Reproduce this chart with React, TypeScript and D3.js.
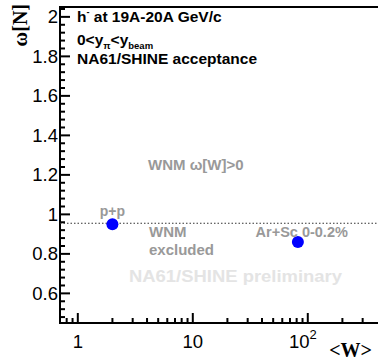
import React from "react";
import * as d3 from "d3";

const systems = ["p+p", "Ar+Sc 0-0.2%"];
const meanW = [2.0, 82];
const omegaN = [0.95, 0.86];
const poissonLine = 0.955;

const yMajor = [0.6, 0.8, 1.0, 1.2, 1.4, 1.6, 1.8, 2.0];
const yLabels = ["0.6", "0.8", "1", "1.2", "1.4", "1.6", "1.8", "2"];
const xMajor = [1, 10, 100];
const xMinor = [0.8, 0.9, 2, 3, 4, 5, 6, 7, 8, 9, 20, 30, 40, 50, 60, 70, 80, 90, 200, 300];

const W = 378;
const H = 360;
const sans = "'Liberation Sans', Arial, Helvetica, sans-serif";
const serif = "'Liberation Serif', 'Times New Roman', serif";

export default function App() {
  const left = 60;
  const right = 378;
  const top = 7;
  const bottom = 323;

  const x = d3.scaleLog().domain([0.7, 408]).range([left, right]);
  const y = d3.scaleLinear().domain([0.45, 2.05]).range([bottom, top]);

  const yMinor = d3.range(0.48, 2.05, 0.04).filter(
    v => !yMajor.some(m => Math.abs(m - v) < 1e-6)
  );

  const grey = "#999999";

  return (
    <div style={{ position: "absolute", left: 0, top: 0, width: W, height: H, background: "#fff" }}>
      <svg width={W} height={H} style={{ display: "block" }}>
        {/* frame */}
        <line x1={left} x2={right} y1={top} y2={top} stroke="#000" strokeWidth={2} />
        <line x1={left} x2={left} y1={top - 1} y2={bottom + 1} stroke="#000" strokeWidth={2} />
        <line x1={left - 1} x2={right} y1={bottom} y2={bottom} stroke="#000" strokeWidth={2} />

        {/* y ticks */}
        {yMajor.map(v => (
          <line key={"ym" + v} x1={left} x2={left + 10} y1={y(v)} y2={y(v)} stroke="#000" strokeWidth={2} />
        ))}
        {yMinor.map(v => (
          <line key={"yn" + v} x1={left} x2={left + 5} y1={y(v)} y2={y(v)} stroke="#000" strokeWidth={2} />
        ))}
        {yMajor.map((v, i) => (
          <text
            key={"yl" + v}
            x={left - 2}
            y={y(v) + 6.5}
            textAnchor="end"
            fontFamily={sans}
            fontSize={18.5}
            fill="#000"
          >
            {yLabels[i]}
          </text>
        ))}

        {/* x ticks */}
        {xMajor.map(v => (
          <line key={"xm" + v} x1={x(v)} x2={x(v)} y1={bottom} y2={bottom - 10} stroke="#000" strokeWidth={2} />
        ))}
        {xMinor.map(v => (
          <line key={"xn" + v} x1={x(v)} x2={x(v)} y1={bottom} y2={bottom - 5} stroke="#000" strokeWidth={2} />
        ))}
        <text x={x(1)} y={348} textAnchor="middle" fontFamily={sans} fontSize={18.5}>1</text>
        <text x={x(10)} y={348} textAnchor="middle" fontFamily={sans} fontSize={18.5}>10</text>
        <text x={x(100) - 5} y={348} textAnchor="middle" fontFamily={sans} fontSize={18.5}>
          10
          <tspan fontSize={13} dy={-9}>2</tspan>
        </text>

        {/* axis titles */}
        <text
          transform={`translate(27,4) rotate(-90)`}
          textAnchor="end"
          fontFamily={serif}
          fontWeight="bold"
          fontSize={20}
        >
          ω[N]
        </text>
        <text x={372} y={357} textAnchor="end" fontFamily={serif} fontWeight="bold" fontSize={20}>
          {"<W>"}
        </text>

        {/* Poisson reference */}
        <line
          x1={left}
          x2={right}
          y1={y(poissonLine)}
          y2={y(poissonLine)}
          stroke="#333"
          strokeWidth={1}
          strokeDasharray="1.5 2"
        />

        {/* header */}
        <g fontFamily={sans} fontWeight="bold" fill="#000">
          <text x={77} y={22} fontSize={15.5}>
            h<tspan fontSize={9} dy={-7}>-</tspan>
            <tspan dy={7}> at 19A-20A GeV/c</tspan>
          </text>
          <text x={77} y={45} fontSize={15.5}>
            0&lt;y<tspan fontSize={9.5} dy={4}>π</tspan>
            <tspan dy={-4}>&lt;y</tspan>
            <tspan fontSize={9.5} dy={4}>beam</tspan>
          </text>
          <text x={77} y={64} fontSize={15.5}>NA61/SHINE acceptance</text>
        </g>

        {/* annotations */}
        <g fontFamily={sans} fontWeight="bold">
          <text x={148} y={170} fontSize={15} fill={grey}>WNM ω[W]&gt;0</text>
          <text x={149} y={237} fontSize={15} fill={grey}>WNM</text>
          <text x={149} y={255} fontSize={15} fill={grey}>excluded</text>
          <text x={129} y={282} fontSize={16.5} fill="#e4e4e4" textLength={213} lengthAdjust="spacingAndGlyphs">
            NA61/SHINE preliminary
          </text>
        </g>

        {/* data points */}
        {meanW.map((w, i) => (
          <circle key={"p" + i} cx={x(w)} cy={y(omegaN[i])} r={6} fill="#0000ff" />
        ))}
        <text
          x={x(meanW[0])}
          y={y(omegaN[0]) - 8}
          textAnchor="middle"
          fontFamily={sans}
          fontWeight="bold"
          fontSize={14}
          fill={grey}
        >
          {systems[0]}
        </text>
        <text
          x={x(meanW[1]) + 50}
          y={237}
          textAnchor="end"
          fontFamily={sans}
          fontWeight="bold"
          fontSize={14.5}
          fill={grey}
        >
          {systems[1]}
        </text>
      </svg>
    </div>
  );
}
